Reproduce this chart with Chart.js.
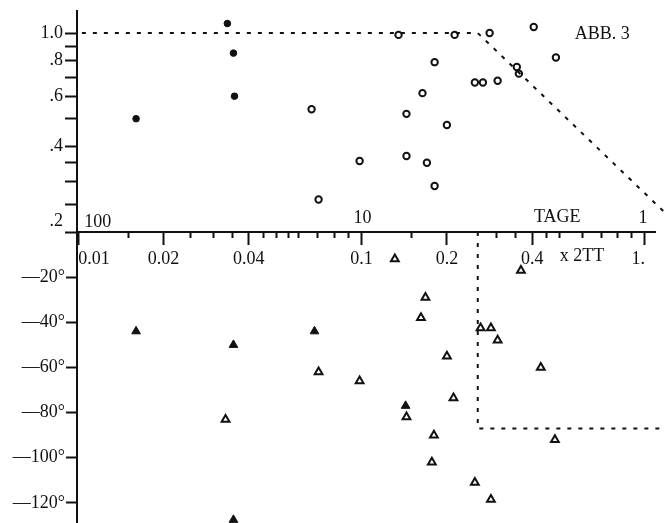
<!DOCTYPE html>
<html><head><meta charset="utf-8">
<script src="https://cdn.jsdelivr.net/npm/chart.js@4/dist/chart.umd.min.js"></script>
<style>html,body{margin:0;padding:0;background:#fff;overflow:hidden;}</style>
</head><body>
<canvas id="c" width="670" height="523"></canvas>
<script>
// ---- data ----
const ampFilledFreq = [0.0160, 0.0336, 0.0353, 0.0356];
const ampFilledVal  = [0.50, 1.08, 0.85, 0.60];
const ampOpenFreq = [0.0666, 0.0705, 0.0984, 0.135, 0.144, 0.144, 0.164, 0.170, 0.181, 0.181, 0.200, 0.213, 0.251, 0.268, 0.283, 0.302, 0.353, 0.359, 0.405, 0.485];
const ampOpenVal  = [0.54, 0.26, 0.355, 0.985, 0.52, 0.37, 0.615, 0.35, 0.79, 0.29, 0.475, 0.985, 0.67, 0.67, 1.0, 0.68, 0.76, 0.72, 1.05, 0.82];
const phaseFilledFreq = [0.0160, 0.0353, 0.0682, 0.0353, 0.143];
const phaseFilledVal  = [-44, -50, -44, -127.5, -77];
const phaseOpenFreq = [0.0331, 0.0705, 0.0984, 0.131, 0.144, 0.162, 0.168, 0.177, 0.180, 0.200, 0.211, 0.251, 0.263, 0.286, 0.286, 0.302, 0.365, 0.429, 0.481];
const phaseOpenVal  = [-83, -62, -66, -12, -82, -38, -29, -102, -90, -55, -73.5, -111, -42.5, -42.5, -118.5, -48, -17, -60, -92];
const ampModelFreq = [0.0103, 0.257, 1.16];
const ampModelVal  = [1.0, 1.0, 0.237];
const phaseModelFreq = [0.257, 0.257, 1.16];
const phaseModelVal  = [0, -87, -87];

// ---- ticks ----
const freqMajor = [0.01, 0.02, 0.04, 0.1, 0.2, 0.4, 1];
const freqMajorLabels = ['0.01', '0.02', '0.04', '0.1', '0.2', '0.4', '1.'];
const freqMinor = [0.015, 0.025, 0.03, 0.035, 0.045, 0.05, 0.055, 0.06, 0.07, 0.08, 0.09, 0.15, 0.3, 0.35, 0.45, 0.5, 0.6, 0.7, 0.8, 0.9];
const dayTicks = [100, 10, 1];
const ampTicks = [0.2, 0.25, 0.3, 0.35, 0.4, 0.5, 0.6, 0.7, 0.8, 0.9, 1.0];
const ampLabelValues = [1.0, 0.8, 0.6, 0.4, 0.2];
const ampLabelTexts  = ['1.0', '.8', '.6', '.4', '.2'];
const phaseTicks = [-120, -100, -80, -60, -40, -20];
const phaseLabels = ['\u2014120\u00b0', '\u2014100\u00b0', '\u201480\u00b0', '\u201460\u00b0', '\u201440\u00b0', '\u201420\u00b0'];

const FONT = "'Liberation Serif', 'Times New Roman', serif";
const FS = 18;
const INK = '#111';
const pts = (xs, ys) => xs.map((x, i) => ({x: x, y: ys[i]}));
function zeroPad(s) { s.paddingTop = 0; s.paddingBottom = 0; s.paddingLeft = 0; s.paddingRight = 0; }

const textPlugin = {
  id: 'extraText',
  afterDraw(chart) {
    const c = chart.ctx, x = chart.scales.x, ya = chart.scales.ya, yp = chart.scales.yp;
    const axisY = yp.getPixelForValue(0);
    c.save();
    c.fillStyle = INK;
    c.font = FS + 'px ' + FONT;
    c.textBaseline = 'alphabetic';
    dayTicks.forEach((d, i) => {
      const px = x.getPixelForValue(1 / d);
      if (i === 0) { c.textAlign = 'left'; c.fillText(String(d), px + 6, axisY - 5); }
      else if (i === dayTicks.length - 1) { c.textAlign = 'center'; c.fillText(String(d), px - 2, axisY - 9); }
      else { c.textAlign = 'center'; c.fillText(String(d), px + 1, axisY - 9); }
    });
    c.textAlign = 'center';
    c.fillText('TAGE', x.getPixelForValue(0.49), axisY - 10);
    c.textAlign = 'left';
    c.fillText('x 2TT', x.getPixelForValue(0.5), axisY + 29);
    c.fillText('ABB. 3', x.getPixelForValue(0.565), ya.getPixelForValue(0.955));
    c.restore();
  }
};

new Chart(document.getElementById('c'), {
  type: 'scatter',
  data: {
    datasets: [
      {data: pts(ampModelFreq, ampModelVal), xAxisID: 'x', yAxisID: 'ya', showLine: true, borderColor: INK, borderWidth: 2, borderDash: [4, 7], pointRadius: 0, fill: false, clip: false},
      {data: pts(phaseModelFreq, phaseModelVal), xAxisID: 'x', yAxisID: 'yp', showLine: true, borderColor: INK, borderWidth: 2, borderDash: [4, 7], pointRadius: 0, fill: false, clip: false},
      {data: pts(ampFilledFreq, ampFilledVal), xAxisID: 'x', yAxisID: 'ya', pointStyle: 'circle', pointRadius: 3.3, backgroundColor: INK, borderColor: INK, borderWidth: 1},
      {data: pts(ampOpenFreq, ampOpenVal), xAxisID: 'x', yAxisID: 'ya', pointStyle: 'circle', pointRadius: 3.2, backgroundColor: '#fff', borderColor: INK, borderWidth: 2},
      {data: pts(phaseFilledFreq, phaseFilledVal), xAxisID: 'x', yAxisID: 'yp', pointStyle: 'triangle', pointRadius: 5, backgroundColor: INK, borderColor: INK, borderWidth: 1},
      {data: pts(phaseOpenFreq, phaseOpenVal), xAxisID: 'x', yAxisID: 'yp', pointStyle: 'triangle', pointRadius: 4.5, backgroundColor: '#fff', borderColor: INK, borderWidth: 2}
    ]
  },
  options: {
    responsive: false,
    animation: false,
    devicePixelRatio: 1,
    layout: {autoPadding: false, padding: {top: 11, right: 15, bottom: 0, left: 0}},
    plugins: {legend: {display: false}, tooltip: {enabled: false}},
    scales: {
      x: {
        type: 'logarithmic', axis: 'x', position: {yp: 0}, min: 0.0099, max: 1.085, bounds: 'data',
        afterBuildTicks: s => { s.ticks = freqMajor.map(v => ({value: v})); },
        ticks: {callback: (v, i) => freqMajorLabels[i], font: {family: FONT, size: FS}, color: INK, maxRotation: 0, autoSkip: false, align: 'inner', padding: 4},
        grid: {drawOnChartArea: false, tickLength: 12, tickWidth: 2, tickColor: INK},
        border: {display: true, color: INK, width: 2},
        afterFit: zeroPad
      },
      xm: {
        type: 'logarithmic', axis: 'x', position: {yp: 0}, min: 0.0099, max: 1.085, bounds: 'data',
        afterBuildTicks: s => { s.ticks = freqMinor.map(v => ({value: v})); },
        ticks: {display: false, autoSkip: false},
        grid: {drawOnChartArea: false, tickLength: 6, tickWidth: 2, tickColor: INK},
        border: {display: false},
        afterFit: zeroPad
      },
      yp: {
        type: 'linear', position: 'left', stack: 'main', stackWeight: 291, min: -128.9, max: 0, bounds: 'data',
        afterBuildTicks: s => { s.ticks = phaseTicks.map(v => ({value: v})); },
        ticks: {callback: (v, i) => phaseLabels[i], font: {family: FONT, size: FS}, color: INK, autoSkip: false, padding: 1},
        grid: {drawOnChartArea: false, tickLength: 11, tickWidth: 2, tickColor: INK},
        border: {display: true, color: INK, width: 2},
        afterFit: s => { s.width = 77; zeroPad(s); }
      },
      ya: {
        type: 'logarithmic', position: 'left', stack: 'main', stackWeight: 221, min: 0.2, max: 1.195, bounds: 'data',
        afterBuildTicks: s => { s.ticks = ampTicks.map(v => ({value: v})); },
        ticks: {
          callback: (v) => {
            const k = ampLabelValues.findIndex(a => Math.abs(a - v) < 1e-9);
            if (k < 0) return '';
            return v === 0.2 ? [ampLabelTexts[k], ''] : ampLabelTexts[k];
          },
          font: {family: FONT, size: FS}, color: INK, autoSkip: false, padding: 2
        },
        grid: {drawOnChartArea: false, tickLength: 12, tickWidth: 2, tickColor: INK},
        border: {display: true, color: INK, width: 2},
        afterFit: s => { s.width = 77; zeroPad(s); }
      }
    }
  },
  plugins: [textPlugin]
});
</script>
</body></html>
